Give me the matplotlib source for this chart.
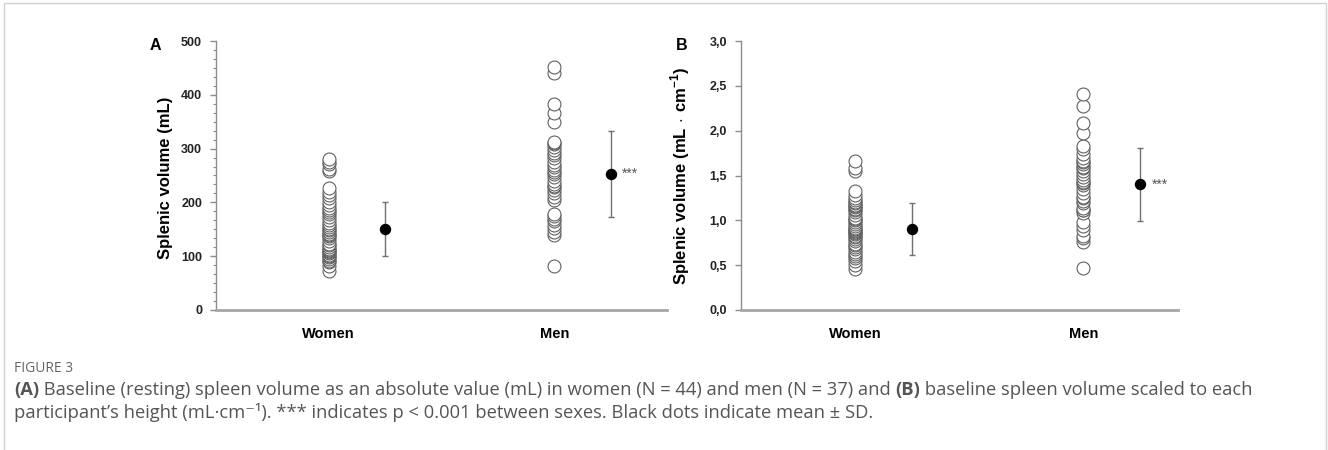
import matplotlib
matplotlib.use("Agg")
import matplotlib.pyplot as plt
from matplotlib.patches import Rectangle
from matplotlib.ticker import AutoMinorLocator

plt.rcParams["font.family"] = ["Liberation Sans", "DejaVu Sans"]
plt.rcParams["mathtext.fontset"] = "custom"
plt.rcParams["mathtext.bf"] = "Liberation Sans:bold"
plt.rcParams["mathtext.rm"] = "Liberation Sans"

# --- data ---
groups = ["Women", "Men"]

women_abs = [73, 82, 89, 92, 95, 98, 100, 103, 106, 108, 110, 112, 114, 118, 121,
             123, 128, 133, 137, 140, 142, 145, 148, 150, 155, 158, 162, 167, 172,
             178, 182, 186, 190, 196, 201, 208, 214, 220, 226, 258, 262, 271, 276, 280]
men_abs = [81, 140, 145, 152, 158, 165, 170, 175, 179, 204, 210, 218, 223, 228, 230,
           235, 240, 248, 252, 256, 260, 265, 270, 276, 282, 288, 291, 297, 303, 308,
           311, 313, 349, 367, 382, 441, 452]
mean_abs = [150, 253]
sd_abs = [50, 80]

women_rel = [0.46, 0.50, 0.55, 0.58, 0.60, 0.63, 0.65, 0.68, 0.70, 0.72, 0.74, 0.77,
             0.79, 0.81, 0.83, 0.85, 0.86, 0.87, 0.88, 0.89, 0.90, 0.92, 0.94, 0.96,
             0.98, 1.00, 1.01, 1.03, 1.06, 1.09, 1.11, 1.13, 1.15, 1.16, 1.17, 1.19,
             1.21, 1.23, 1.25, 1.28, 1.33, 1.55, 1.58, 1.66]
men_rel = [0.47, 0.76, 0.80, 0.83, 0.89, 0.94, 0.98, 1.08, 1.11, 1.12, 1.14, 1.19,
           1.22, 1.25, 1.26, 1.30, 1.35, 1.39, 1.42, 1.43, 1.45, 1.48, 1.52, 1.55,
           1.58, 1.60, 1.63, 1.65, 1.66, 1.70, 1.74, 1.79, 1.83, 1.97, 2.08, 2.27, 2.41]
mean_rel = [0.90, 1.40]
sd_rel = [0.29, 0.41]

ticks_abs = [0, 100, 200, 300, 400, 500]
ticks_rel = [0.0, 0.5, 1.0, 1.5, 2.0, 2.5, 3.0]
ticklabels_rel = ["0,0", "0,5", "1,0", "1,5", "2,0", "2,5", "3,0"]

caption_title = "FIGURE 3"
caption_1 = [("(A)", "bold"),
             (" Baseline (resting) spleen volume as an absolute value (mL) in women (N = 44) and men (N = 37) and ", "normal"),
             ("(B)", "bold"),
             (" baseline spleen volume scaled to each", "normal")]
caption_2 = "participant\u2019s height (mL\u00b7cm\u207b\u00b9). *** indicates p < 0.001 between sexes. Black dots indicate mean \u00b1 SD."

W, H = 1328, 450
fig = plt.figure(figsize=(W / 100, H / 100), dpi=100)

axA = fig.add_axes([216 / W, 1 - 310 / H, 451 / W, 269 / H])
axB = fig.add_axes([741 / W, 1 - 310 / H, 437 / W, 269 / H])


def draw_panel(ax, women, men, means, sds, xmax):
    ax.plot([1] * len(women), women, "o", ms=9.3, mfc="white", mec="#606060", mew=0.8,
            clip_on=False)
    ax.plot([3] * len(men), men, "o", ms=9.3, mfc="white", mec="#606060", mew=0.8,
            clip_on=False)
    ax.errorbar([1.5, 3.5], means, yerr=sds, fmt="o", ms=7.2, color="black",
                ecolor="#707070", elinewidth=1, capsize=2.5, capthick=1)
    ax.text(3.6, means[1], "***", fontsize=10, color="#555555", va="center", ha="left")
    ax.set_xlim(0, xmax)
    ax.set_xticks([1, 3])
    ax.set_xticklabels(groups, fontsize=10.5, fontweight="bold")
    ax.tick_params(axis="x", length=0, pad=12)
    for side in ("top", "right"):
        ax.spines[side].set_visible(False)
    ax.spines["bottom"].set_color("#a6a6a6")
    ax.spines["bottom"].set_linewidth(2)
    ax.spines["left"].set_color("#8c8c8c")
    ax.spines["left"].set_linewidth(1)
    ax.tick_params(axis="y", which="major", length=4, width=1, color="#8c8c8c",
                   labelsize=9, pad=6)
    ax.tick_params(axis="y", which="minor", length=2.5, width=0.8, color="#8c8c8c")


draw_panel(axA, women_abs, men_abs, mean_abs, sd_abs, 4.0)
axA.set_ylim(0, 500)
axA.set_yticks(ticks_abs)
axA.set_yticklabels([str(t) for t in ticks_abs], fontweight="bold", color="#222222")
axA.yaxis.set_minor_locator(AutoMinorLocator(6))
axA.set_ylabel("Splenic volume (mL)", fontsize=12, fontweight="bold")
axA.yaxis.set_label_coords(-0.095, 0.49)

draw_panel(axB, women_rel, men_rel, mean_rel, sd_rel, 3.83)
axB.set_ylim(0, 3.0)
axB.set_yticks(ticks_rel)
axB.set_yticklabels(ticklabels_rel, fontweight="bold", color="#222222")
axB.set_ylabel(r"Splenic volume (mL$\,\cdot\,$cm$^{\mathbf{-1}}$)", fontsize=12,
               fontweight="bold")
axB.yaxis.set_label_coords(-0.112, 0.5)

fig.text(155 / W, 1 - 46 / H, "A", fontsize=11.5, fontweight="bold", ha="center", va="center")
fig.text(682 / W, 1 - 46 / H, "B", fontsize=11.5, fontweight="bold", ha="center", va="center")

# frame around the figure
fig.patches.append(Rectangle((4 / W, -0.1), 1322 / W, 1.1 - 3 / H, transform=fig.transFigure,
                             fill=False, edgecolor="#d0d0d0", lw=1, clip_on=False))

# caption
cap_font = ["Open Sans", "DejaVu Sans"]
fig.text(14 / W, 1 - 368 / H, caption_title, fontsize=10, color="#666666",
         family=cap_font, va="center")

renderer = fig.canvas.get_renderer()
x = 14 / W
for txt, weight in caption_1:
    t = fig.text(x, 1 - 390 / H, txt, fontsize=13.2, color="#555555", family=cap_font,
                 fontweight=weight, va="center")
    x += t.get_window_extent(renderer).width / W
fig.text(14 / W, 1 - 413 / H, caption_2, fontsize=13.2, color="#555555", family=cap_font,
         va="center")

fig.savefig("out.png", dpi=100)
